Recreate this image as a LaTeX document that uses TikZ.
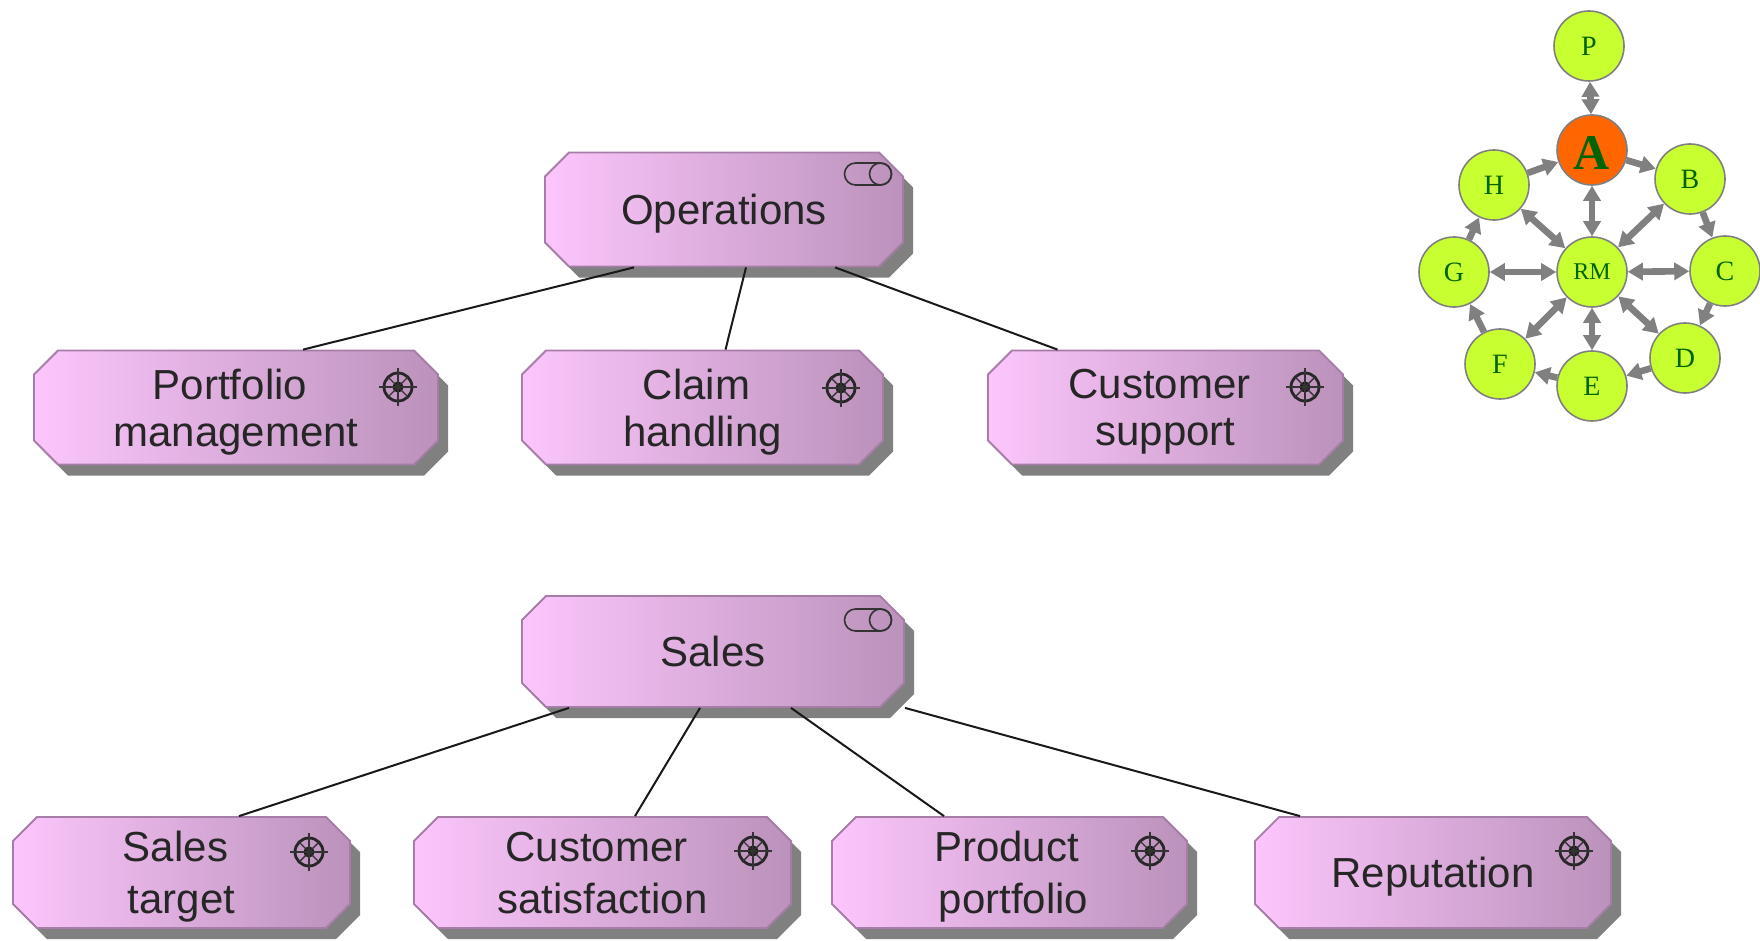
\documentclass[tikz,border=0pt]{standalone}
\usepackage{fontspec}
\setmainfont{Liberation Sans}
\newfontfamily\serifgraph{Liberation Serif}
\usetikzlibrary{arrows.meta,shapes.misc,shadows}
\definecolor{boxleft}{HTML}{FCC6FC}
\definecolor{boxright}{HTML}{BB92BB}
\definecolor{boxline}{HTML}{A67DA6}
\definecolor{lime}{HTML}{C8FF30}
\definecolor{leaf}{HTML}{006400}
\definecolor{hot}{HTML}{FF6600}
\tikzset{
    procbox/.style={chamfered rectangle,chamfered rectangle xsep=6pt,chamfered rectangle ysep=6pt,
        draw=boxline,line width=0.9pt,left color=boxleft,right color=boxright,inner sep=0pt,
        text=black!85,align=center,minimum height=57pt,text depth=0pt,
        drop shadow={shadow xshift=5pt,shadow yshift=-5.5pt,fill=black!50,opacity=1},
        font=\fontsize{21}{23.5}\selectfont},
    lowbox/.style={procbox,minimum height=55.5pt,font=\fontsize{21}{26}\selectfont},
    link/.style={draw=black!90,line width=1pt},
    gnode/.style={circle,draw=black!50,line width=0.8pt,fill=lime,text=leaf,inner sep=0pt,
        minimum size=35pt,font=\serifgraph\fontsize{14}{14}\selectfont},
    flow/.style={draw=black!50,line width=3.3pt,-{Triangle[length=7.5pt,width=8.5pt]}},
    dflow/.style={draw=black!50,line width=3.3pt,{Triangle[length=7.5pt,width=8.5pt]}-{Triangle[length=7.5pt,width=8.5pt]}},
    wheel/.pic={
        \draw [line width=1.4pt,black!85] (0,0) circle (7pt);
        \fill [black!90] (0,0) circle (2.8pt);
        \foreach \a in {0,45,...,315}{%
            \draw [line width=0.7pt,black!80] (\a:0pt) -- (\a:{mod(\a,90)==0 ? 9.5pt : 7pt});}
    },
    toggle/.pic={
        \draw [line width=0.8pt,black!80,rounded corners=5.5pt] (-11.75pt,-5.5pt) rectangle (11.75pt,5.5pt);
        \draw [line width=0.8pt,black!80] (6.25pt,0) circle (5.5pt);
    }
}
\begin{document}
\begin{tikzpicture}[x=0.5pt,y=-0.5pt]
    \useasboundingbox (0,0) rectangle (1760,941);

    % upper tree
    \node [procbox,minimum width=179pt] (ops) at (724,209.5) {Operations};
    \node [procbox,minimum width=202pt] (port) at (236,407.5) {Portfolio\hspace*{6pt}\\management};
    \node [procbox,minimum width=180.5pt] (claim) at (702.5,407.5) {Claim\hspace*{6pt}\\handling};
    \node [procbox,minimum width=177.5pt] (supp) at (1165.5,407.5) {Customer\hspace*{6pt}\\support};

    % lower tree
    \node [lowbox,minimum width=191pt] (sales) at (713,651.5) {Sales};
    \node [lowbox,minimum width=168.5pt] (target) at (181.5,872.5) {Sales\hspace*{6pt}\\target};
    \node [lowbox,minimum width=188.5pt] (sat) at (602.5,872.5) {Customer\hspace*{6pt}\\satisfaction};
    \node [lowbox,minimum width=177.5pt] (prod) at (1009.5,872.5) {Product\hspace*{3pt}\\\hspace*{4pt}portfolio};
    \node [lowbox,minimum width=178pt] (rep) at (1433,872.5) {Reputation};

    \draw [link] ([xshift=-45pt]ops.south) -- ([xshift=33.5pt]port.north);
    \draw [link] ([xshift=11pt]ops.south) -- ([xshift=11.5pt]claim.north);
    \draw [link] ([xshift=55.5pt]ops.south) -- ([xshift=-54pt]supp.north);
    \draw [link] ([xshift=-72pt]sales.south) -- ([xshift=28.75pt]target.north);
    \draw [link] ([xshift=-6.5pt]sales.south) -- ([xshift=16.25pt]sat.north);
    \draw [link] ([xshift=39pt]sales.south) -- ([xshift=-32.75pt]prod.north);
    \draw [link] ([xshift=96pt]sales.south) -- ([xshift=-66.5pt]rep.north);

    \foreach \x/\y in {398/387,841/388,1305/387,309/852,753/851,1150/851,1574/851}{%
        \pic at (\x,\y) {wheel};}
    \foreach \y in {174,620}{%
        \pic at (868,\y) {toggle};}

    % graph at the top right
    \foreach \n/\x/\y in {P/1589/46,B/1690/179,C/1725/271,D/1685/358,E/1592/386,F/1500/364,G/1454/272,H/1494/185}{%
        \node [gnode] (\n) at (\x,\y) {\n};}
    \node [gnode,font=\serifgraph\fontsize{12}{12}\selectfont] (RM) at (1592,272) {RM};
    \node [gnode,fill=hot,text height=20pt,font=\serifgraph\bfseries\fontsize{25}{25}\selectfont] (A) at (1592,150) {A};

    \foreach \a/\b in {A/B,B/C,C/D,D/E,E/F,F/G,G/H,H/A}{%
        \draw [flow] (\a) -- (\b);}
    \foreach \a in {A,B,C,D,E,F,G,H}{%
        \draw [dflow] (\a) -- (RM);}
    \draw [dflow] (P) -- (A);
\end{tikzpicture}
\end{document}
